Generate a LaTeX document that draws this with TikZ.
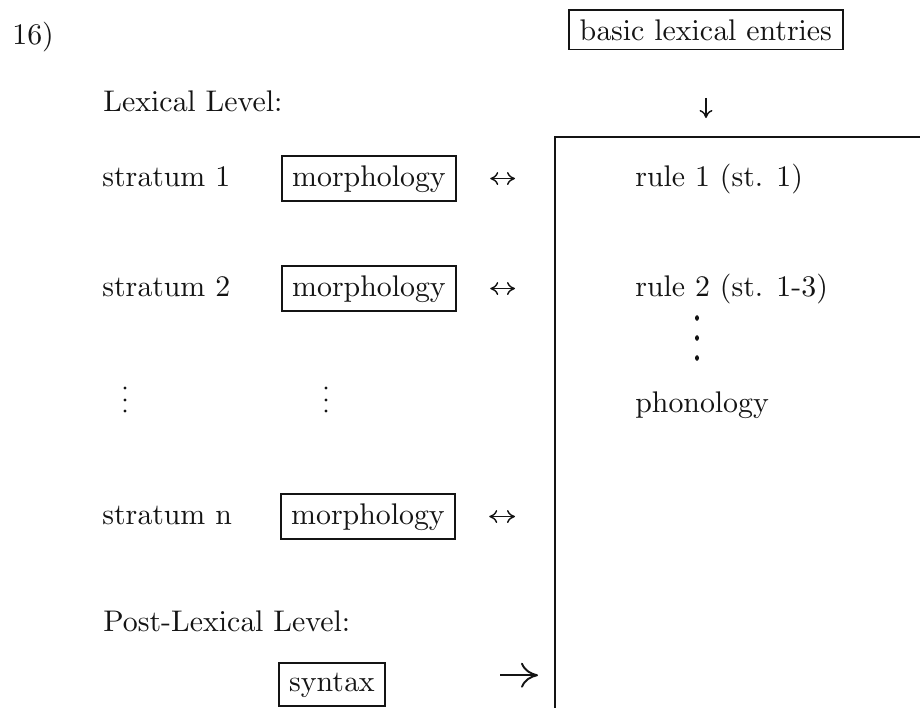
\documentclass[tikz,border=0pt]{standalone}
\usepackage{xcolor}
\usepackage{tikz}
\usetikzlibrary{arrows.meta}
\definecolor{lxInk}{HTML}{141414}
\font\lxrm=cmr10 at 17pt
\tikzset{
  % Plain label
  txt/.style={inner sep=0pt,font=\lxrm,text=lxInk},
  % Framed term box
  tbox/.style={rectangle,draw=lxInk,line width=1.1pt,
    inner xsep=0.21cm,inner ysep=0.19cm,
    font=\lxrm,text=lxInk},
  % Open frame of the rule block
  openbox/.style={draw=lxInk,line width=1.1pt},
  % Ellipsis dots
  edot/.style={fill=lxInk},
  % Arrows
  arr/.style={-{Computer Modern Rightarrow[length=1.6mm,width=2.6mm]},
    line width=0.8pt,draw=lxInk},
  darr/.style={{Computer Modern Rightarrow[length=1.6mm,width=2.6mm]}-{Computer Modern Rightarrow[length=1.6mm,width=2.6mm]},
    line width=0.8pt,draw=lxInk},
  bigarr/.style={-{Computer Modern Rightarrow[length=3.4mm,width=5mm]},
    line width=1.1pt,draw=lxInk},
}
\begin{document}
\begin{tikzpicture}[x=0.02cm,y=-0.02cm]
  \useasboundingbox (0,0) rectangle (920,708);

  \node[txt,anchor=base west] (num) at (12,44) {16)};
  \node[tbox,anchor=base] (entries) at (706,40) {basic lexical entries};

  % Lexical level, one row per stratum
  \node[txt,anchor=base west] (lexlev) at (103,111) {Lexical Level:};
  \node[txt,anchor=base west] (st1) at (102,186) {stratum 1};
  \node[tbox,anchor=base] (mo1) at (369,186) {morphology};
  \node[txt,anchor=base west] (st2) at (102,296) {stratum 2};
  \node[tbox,anchor=base] (mo2) at (369,296) {morphology};
  \node[txt,anchor=base west] (stn) at (102,524) {stratum n};
  \node[tbox,anchor=base] (mon) at (368,524) {morphology};
  \foreach \y in {388,400,411} {
    \fill[edot] (125,\y) circle (1.7);
    \fill[edot] (326,\y) circle (1.7);
  }

  % Post-lexical level
  \node[txt,anchor=base west] (postlev) at (103,631) {Post-Lexical Level:};
  \node[tbox,anchor=base] (syn) at (332,691) {syntax};

  % Rule block (runs off the right edge)
  \coordinate (boxtl) at (555,137);
  \coordinate (boxtr) at (920,137);
  \coordinate (boxbl) at (555,708);
  \draw[openbox] (boxtr) -- (boxtl) -- (boxbl);

  \node[txt,anchor=base west] (rule1) at (635,186) {rule 1 (st. 1)};
  \node[txt,anchor=base west] (rule2) at (635,296) {rule 2 (st. 1-3)};
  \foreach \y in {318,338,358}
    \fill[edot] (697,\y) ellipse (2 and 2.8);
  \node[txt,anchor=base west] (phon) at (635,412) {phonology};

  \draw[arr,shorten <=0.95cm,shorten >=0.38cm] (entries.south) -- (entries.south |- boxtl);
  \foreach \m in {mo1,mo2,mon}
    \draw[darr,shorten <=0.66cm,shorten >=0.8cm] (\m.east) -- (\m.east -| boxtl);
  \draw[bigarr,shorten <=2.28cm,shorten >=0.34cm]
    ([yshift=0.19cm]syn.east) -- ([yshift=0.19cm]syn.east -| boxtl);
\end{tikzpicture}
\end{document}
